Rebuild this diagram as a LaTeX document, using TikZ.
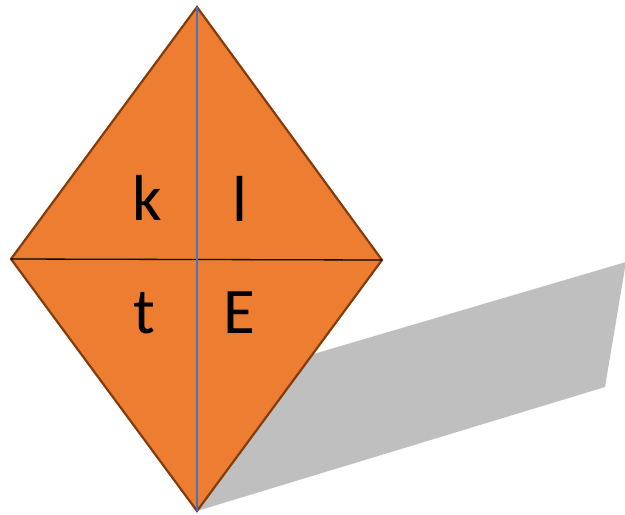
\documentclass[tikz,border=0pt]{standalone}
\usepackage{fontspec}
\setmainfont{Carlito}
\definecolor{kiteorange}{HTML}{ED7D31}
\definecolor{kiteedge}{HTML}{843C0C}
\definecolor{kiteblue}{HTML}{4472C4}
\definecolor{shadowgray}{HTML}{BFBFBF}
\begin{document}
\begin{tikzpicture}[x=1pt,y=-1pt,
  letter/.style={anchor=base,inner sep=0pt,font=\fontsize{65}{65}\selectfont}]
\useasboundingbox (0,0) rectangle (625,515);
\coordinate (T) at (197,7);
\coordinate (L) at (11,259);
\coordinate (R) at (382,260);
\coordinate (B) at (197,511);
\coordinate (S1) at (605,387);
\coordinate (S2) at (626,262);
\coordinate (S3) at (300,358);
\fill[shadowgray] (B) -- (S1) -- (S2) -- (S3) -- cycle;
\filldraw[fill=kiteorange,draw=kiteedge,line width=2.2pt,line join=miter] (T) -- (R) -- (B) -- (L) -- cycle;
\draw[black,line width=1.3pt] (L) -- (R);
\draw[kiteblue,line width=1.3pt] (T) -- (B);
\node[letter] (k) at (147,220) {k};
\node[letter] (l) at (240,221) {l};
\node[letter] (t) at (144,333) {t};
\node[letter] (E) at (239,333) {E};
\end{tikzpicture}
\end{document}
